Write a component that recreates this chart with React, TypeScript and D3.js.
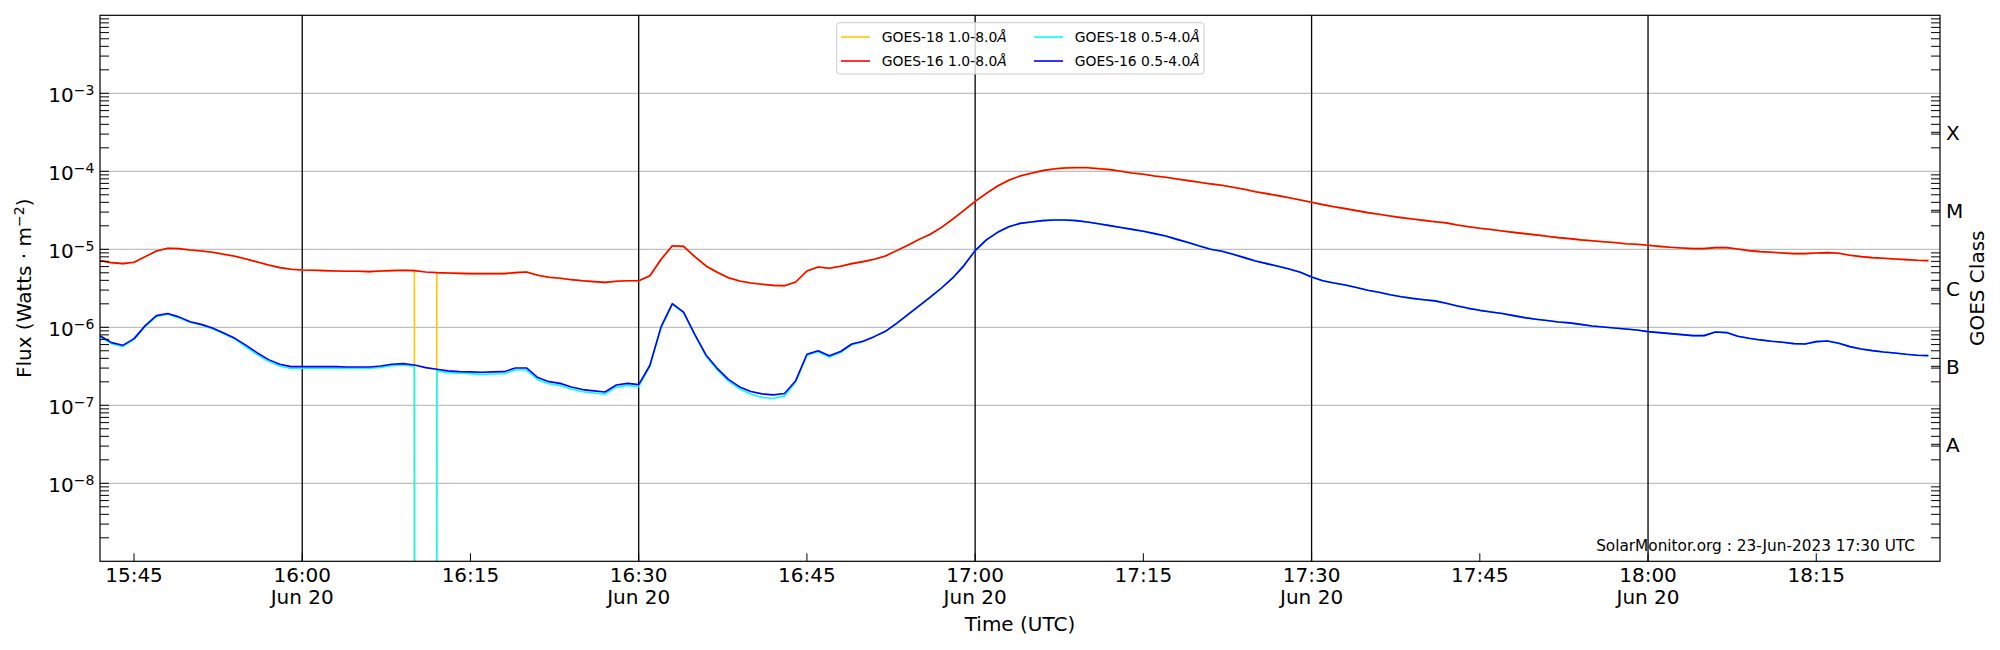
import { useEffect, useRef } from "react";
import * as d3 from "d3";

// one-minute GOES XRS samples, 15:42 .. 18:25 UTC, 20-Jun-2023
const START_UTC = Date.UTC(2023, 5, 20, 15, 42);
const CADENCE_MS = 60 * 1000;

const GOES16_LONG = [
  7.16e-6, 6.74e-6, 6.55e-6, 6.81e-6, 8.05e-6, 9.52e-6, 1.03e-5, 1.02e-5, 9.8e-6, 9.52e-6,
  9.16e-6, 8.63e-6, 8.13e-6, 7.51e-6, 6.88e-6, 6.3e-6, 5.82e-6, 5.54e-6, 5.43e-6, 5.38e-6,
  5.33e-6, 5.27e-6, 5.22e-6, 5.22e-6, 5.17e-6, 5.27e-6, 5.33e-6, 5.38e-6, 5.33e-6, 5.12e-6,
  5.02e-6, 4.97e-6, 4.92e-6, 4.88e-6, 4.88e-6, 4.88e-6, 4.88e-6, 5.02e-6, 5.12e-6, 4.65e-6,
  4.38e-6, 4.25e-6, 4.08e-6, 3.96e-6, 3.85e-6, 3.77e-6, 3.89e-6, 3.96e-6, 3.96e-6, 4.59e-6,
  7.45e-6, 1.11e-5, 1.09e-5, 8.05e-6, 6.11e-6, 5.07e-6, 4.33e-6, 3.93e-6, 3.7e-6, 3.56e-6,
  3.45e-6, 3.42e-6, 3.81e-6, 5.27e-6, 5.94e-6, 5.71e-6, 6.05e-6, 6.55e-6, 6.95e-6, 7.45e-6,
  8.22e-6, 9.62e-6, 1.125e-5, 1.34e-5, 1.56e-5, 1.91e-5, 2.43e-5, 3.16e-5, 4.12e-5, 5.22e-5,
  6.48e-5, 7.67e-5, 8.71e-5, 9.42e-5, 1.02e-4, 1.07e-4, 1.1e-4, 1.11e-4, 1.11e-4, 1.08e-4,
  1.05e-4, 1.0e-4, 9.52e-5, 9.16e-5, 8.71e-5, 8.38e-5, 7.98e-5, 7.59e-5, 7.23e-5, 6.89e-5,
  6.62e-5, 6.24e-5, 5.88e-5, 5.48e-5, 5.17e-5, 4.88e-5, 4.59e-5, 4.29e-5, 4.01e-5, 3.74e-5,
  3.52e-5, 3.32e-5, 3.13e-5, 2.95e-5, 2.81e-5, 2.67e-5, 2.55e-5, 2.45e-5, 2.35e-5, 2.26e-5,
  2.18e-5, 2.05e-5, 1.95e-5, 1.86e-5, 1.79e-5, 1.72e-5, 1.65e-5, 1.59e-5, 1.53e-5, 1.47e-5,
  1.41e-5, 1.37e-5, 1.32e-5, 1.29e-5, 1.25e-5, 1.22e-5, 1.18e-5, 1.16e-5, 1.125e-5, 1.09e-5,
  1.06e-5, 1.04e-5, 1.02e-5, 1.02e-5, 1.05e-5, 1.05e-5, 1.01e-5, 9.62e-6, 9.33e-6, 9.16e-6,
  8.97e-6, 8.8e-6, 8.8e-6, 8.97e-6, 9.06e-6, 8.88e-6, 8.38e-6, 8.05e-6, 7.82e-6, 7.67e-6,
  7.51e-6, 7.38e-6, 7.23e-6, 7.16e-6,
];

// 0 = dropout at 16:11
const GOES18_LONG = [
  7.16e-6, 6.74e-6, 6.55e-6, 6.81e-6, 8.05e-6, 9.52e-6, 1.03e-5, 1.02e-5, 9.8e-6, 9.52e-6,
  9.16e-6, 8.63e-6, 8.13e-6, 7.51e-6, 6.88e-6, 6.3e-6, 5.82e-6, 5.54e-6, 5.43e-6, 5.38e-6,
  5.33e-6, 5.27e-6, 5.22e-6, 5.22e-6, 5.17e-6, 5.27e-6, 5.33e-6, 5.38e-6, 5.33e-6, 0,
  5.02e-6, 4.97e-6, 4.92e-6, 4.88e-6, 4.88e-6, 4.88e-6, 4.88e-6, 5.02e-6, 5.12e-6, 4.65e-6,
  4.38e-6, 4.25e-6, 4.08e-6, 3.96e-6, 3.85e-6, 3.77e-6, 3.89e-6, 3.96e-6, 3.96e-6, 4.59e-6,
  7.45e-6, 1.11e-5, 1.09e-5, 8.05e-6, 6.11e-6, 5.07e-6, 4.33e-6, 3.93e-6, 3.7e-6, 3.56e-6,
  3.45e-6, 3.42e-6, 3.81e-6, 5.27e-6, 5.94e-6, 5.71e-6, 6.05e-6, 6.55e-6, 6.95e-6, 7.45e-6,
  8.22e-6, 9.62e-6, 1.125e-5, 1.34e-5, 1.56e-5, 1.91e-5, 2.43e-5, 3.16e-5, 4.12e-5, 5.22e-5,
  6.48e-5, 7.67e-5, 8.71e-5, 9.42e-5, 1.02e-4, 1.08e-4, 1.115e-4, 1.125e-4, 1.125e-4, 1.095e-4,
  1.05e-4, 1.0e-4, 9.52e-5, 9.16e-5, 8.71e-5, 8.38e-5, 7.98e-5, 7.59e-5, 7.23e-5, 6.89e-5,
  6.62e-5, 6.24e-5, 5.88e-5, 5.48e-5, 5.17e-5, 4.88e-5, 4.59e-5, 4.29e-5, 4.01e-5, 3.74e-5,
  3.52e-5, 3.32e-5, 3.13e-5, 2.95e-5, 2.81e-5, 2.67e-5, 2.55e-5, 2.45e-5, 2.35e-5, 2.26e-5,
  2.18e-5, 2.05e-5, 1.95e-5, 1.86e-5, 1.79e-5, 1.72e-5, 1.65e-5, 1.59e-5, 1.53e-5, 1.47e-5,
  1.41e-5, 1.37e-5, 1.32e-5, 1.29e-5, 1.25e-5, 1.22e-5, 1.18e-5, 1.16e-5, 1.125e-5, 1.09e-5,
  1.06e-5, 1.04e-5, 1.02e-5, 1.02e-5, 1.05e-5, 1.05e-5, 1.01e-5, 9.62e-6, 9.33e-6, 9.16e-6,
  8.97e-6, 8.8e-6, 8.8e-6, 8.97e-6, 9.06e-6, 8.88e-6, 8.38e-6, 8.05e-6, 7.82e-6, 7.67e-6,
  7.51e-6, 7.38e-6, 7.23e-6, 7.16e-6,
];

const GOES16_SHORT = [
  7.74e-7, 6.36e-7, 5.87e-7, 7.16e-7, 1.05e-6, 1.41e-6, 1.5e-6, 1.36e-6, 1.18e-6, 1.09e-6,
  9.8e-7, 8.45e-7, 7.22e-7, 5.87e-7, 4.69e-7, 3.85e-7, 3.36e-7, 3.13e-7, 3.13e-7, 3.13e-7,
  3.13e-7, 3.13e-7, 3.1e-7, 3.1e-7, 3.1e-7, 3.19e-7, 3.36e-7, 3.42e-7, 3.29e-7, 3.04e-7,
  2.9e-7, 2.76e-7, 2.7e-7, 2.68e-7, 2.65e-7, 2.68e-7, 2.7e-7, 3.01e-7, 3.01e-7, 2.27e-7,
  2.01e-7, 1.91e-7, 1.72e-7, 1.59e-7, 1.53e-7, 1.48e-7, 1.82e-7, 1.91e-7, 1.84e-7, 3.26e-7,
  1.02e-6, 2.01e-6, 1.57e-6, 8.13e-7, 4.42e-7, 2.98e-7, 2.15e-7, 1.72e-7, 1.5e-7, 1.4e-7,
  1.36e-7, 1.42e-7, 2.07e-7, 4.51e-7, 5.02e-7, 4.33e-7, 4.9e-7, 6.11e-7, 6.62e-7, 7.59e-7,
  8.89e-7, 1.125e-6, 1.45e-6, 1.88e-6, 2.43e-6, 3.19e-6, 4.29e-6, 6.18e-6, 9.62e-6, 1.32e-5,
  1.65e-5, 1.95e-5, 2.15e-5, 2.24e-5, 2.33e-5, 2.38e-5, 2.38e-5, 2.33e-5, 2.24e-5, 2.13e-5,
  2.01e-5, 1.9e-5, 1.8e-5, 1.7e-5, 1.59e-5, 1.48e-5, 1.34e-5, 1.22e-5, 1.1e-5, 1.0e-5,
  9.42e-6, 8.63e-6, 7.82e-6, 7.08e-6, 6.55e-6, 6.05e-6, 5.6e-6, 5.07e-6, 4.42e-6, 3.96e-6,
  3.7e-6, 3.49e-6, 3.23e-6, 2.98e-6, 2.81e-6, 2.62e-6, 2.47e-6, 2.35e-6, 2.26e-6, 2.18e-6,
  2.03e-6, 1.88e-6, 1.75e-6, 1.65e-6, 1.57e-6, 1.5e-6, 1.41e-6, 1.33e-6, 1.27e-6, 1.22e-6,
  1.17e-6, 1.14e-6, 1.09e-6, 1.04e-6, 1.01e-6, 9.8e-7, 9.52e-7, 9.24e-7, 8.8e-7, 8.55e-7,
  8.3e-7, 8.05e-7, 7.82e-7, 7.82e-7, 8.71e-7, 8.55e-7, 7.67e-7, 7.23e-7, 6.89e-7, 6.62e-7,
  6.43e-7, 6.18e-7, 6.11e-7, 6.55e-7, 6.68e-7, 6.24e-7, 5.65e-7, 5.27e-7, 5.02e-7, 4.83e-7,
  4.69e-7, 4.51e-7, 4.38e-7, 4.33e-7,
];

const GOES18_SHORT = [
  7.51e-7, 6.17e-7, 5.69e-7, 6.95e-7, 1.03e-6, 1.38e-6, 1.47e-6, 1.33e-6, 1.16e-6, 1.07e-6,
  9.6e-7, 8.28e-7, 7.08e-7, 5.58e-7, 4.46e-7, 3.66e-7, 3.19e-7, 2.97e-7, 3.0e-7, 3.0e-7,
  3.0e-7, 3.0e-7, 2.98e-7, 2.98e-7, 2.98e-7, 3.06e-7, 3.23e-7, 3.28e-7, 3.16e-7, 0,
  2.76e-7, 2.62e-7, 2.57e-7, 2.55e-7, 2.49e-7, 2.52e-7, 2.54e-7, 2.83e-7, 2.83e-7, 2.13e-7,
  1.89e-7, 1.8e-7, 1.62e-7, 1.49e-7, 1.44e-7, 1.39e-7, 1.71e-7, 1.8e-7, 1.73e-7, 3.19e-7,
  1.0e-6, 1.97e-6, 1.54e-6, 7.97e-7, 4.29e-7, 2.86e-7, 2.04e-7, 1.62e-7, 1.4e-7, 1.26e-7,
  1.22e-7, 1.32e-7, 1.99e-7, 4.37e-7, 4.87e-7, 4.16e-7, 4.75e-7, 5.99e-7, 6.55e-7, 7.59e-7,
  8.89e-7, 1.125e-6, 1.45e-6, 1.88e-6, 2.43e-6, 3.19e-6, 4.29e-6, 6.18e-6, 9.62e-6, 1.32e-5,
  1.65e-5, 1.95e-5, 2.15e-5, 2.24e-5, 2.33e-5, 2.38e-5, 2.38e-5, 2.33e-5, 2.24e-5, 2.13e-5,
  2.01e-5, 1.9e-5, 1.8e-5, 1.7e-5, 1.59e-5, 1.48e-5, 1.34e-5, 1.22e-5, 1.1e-5, 1.0e-5,
  9.42e-6, 8.63e-6, 7.82e-6, 7.08e-6, 6.55e-6, 6.05e-6, 5.6e-6, 5.07e-6, 4.42e-6, 3.96e-6,
  3.7e-6, 3.49e-6, 3.23e-6, 2.98e-6, 2.81e-6, 2.62e-6, 2.47e-6, 2.35e-6, 2.26e-6, 2.18e-6,
  2.03e-6, 1.88e-6, 1.75e-6, 1.65e-6, 1.57e-6, 1.5e-6, 1.41e-6, 1.33e-6, 1.27e-6, 1.22e-6,
  1.17e-6, 1.14e-6, 1.09e-6, 1.04e-6, 1.01e-6, 9.8e-7, 9.52e-7, 9.24e-7, 8.8e-7, 8.55e-7,
  8.3e-7, 8.05e-7, 7.82e-7, 7.82e-7, 8.71e-7, 8.55e-7, 7.67e-7, 7.23e-7, 6.89e-7, 6.62e-7,
  6.43e-7, 6.18e-7, 6.11e-7, 6.55e-7, 6.68e-7, 6.24e-7, 5.65e-7, 5.27e-7, 5.02e-7, 4.83e-7,
  4.69e-7, 4.51e-7, 4.38e-7, 4.33e-7,
];

// drawing / legend order (column-major in the legend)
const SERIES_NAMES = ["GOES-18 1.0-8.0", "GOES-16 1.0-8.0", "GOES-18 0.5-4.0", "GOES-16 0.5-4.0"];
const SERIES_COLORS = ["#ffc800", "#ff0000", "#00ffff", "#0000ff"];
const SERIES_DATA = [GOES18_LONG, GOES16_LONG, GOES18_SHORT, GOES16_SHORT];

const X_TICKS = ["15:45", "16:00", "16:15", "16:30", "16:45", "17:00", "17:15", "17:30", "17:45", "18:00", "18:15"];
const DATE_TICKS = ["16:00", "16:30", "17:00", "17:30", "18:00"];
const DATE_LABEL = "Jun 20";
const Y_TICK_EXPONENTS = [-3, -4, -5, -6, -7, -8];
const GRID_EXPONENTS = [-8, -7, -6, -5, -4, -3];
const CLASS_LABELS = ["A", "B", "C", "M", "X"];
const CLASS_FLUX = [3.162e-8, 3.162e-7, 3.162e-6, 3.162e-5, 3.162e-4];
const WATERMARK = "SolarMonitor.org : 23-Jun-2023 17:30 UTC";

const W = 2000;
const H = 650;
const PLOT = { left: 100, right: 1940, top: 15.3, bottom: 561.3 };
const FONT = "'DejaVu Sans', Verdana, sans-serif";

const hm = (s: string) => {
  const [h, m] = s.split(":").map(Number);
  return new Date(Date.UTC(2023, 5, 20, h, m));
};

function App() {
  const svgRef = useRef<SVGSVGElement>(null);

  useEffect(() => {
    if (!svgRef.current) return;
    const svg = d3.select(svgRef.current);
    svg.selectAll("*").remove();

    const times = GOES16_LONG.map((_, i) => new Date(START_UTC + i * CADENCE_MS));

    const x = d3
      .scaleUtc()
      .domain([new Date(Date.UTC(2023, 5, 20, 15, 41, 58)), new Date(Date.UTC(2023, 5, 20, 18, 26, 2))])
      .range([PLOT.left, PLOT.right]);
    const y = d3.scaleLog().domain([1e-9, 1e-2]).range([PLOT.bottom, PLOT.top]);

    svg.append("rect").attr("width", W).attr("height", H).attr("fill", "#fff");

    svg
      .append("clipPath")
      .attr("id", "plot-clip")
      .append("rect")
      .attr("x", PLOT.left)
      .attr("y", PLOT.top)
      .attr("width", PLOT.right - PLOT.left)
      .attr("height", PLOT.bottom - PLOT.top);

    // horizontal grid at decades
    svg
      .append("g")
      .selectAll("line")
      .data(GRID_EXPONENTS)
      .join("line")
      .attr("x1", PLOT.left)
      .attr("x2", PLOT.right)
      .attr("y1", (d) => y(Math.pow(10, d)))
      .attr("y2", (d) => y(Math.pow(10, d)))
      .attr("stroke", "#b0b0b0")
      .attr("stroke-width", 1);

    // black half-hour markers
    svg
      .append("g")
      .selectAll("line")
      .data(DATE_TICKS)
      .join("line")
      .attr("x1", (d) => x(hm(d)))
      .attr("x2", (d) => x(hm(d)))
      .attr("y1", PLOT.top)
      .attr("y2", PLOT.bottom)
      .attr("stroke", "#000")
      .attr("stroke-width", 1.3);

    // series
    const line = d3
      .line<number>()
      .x((_, i) => x(times[i]))
      .y((v) => y(Math.max(v, 1e-300)));

    const lines = svg.append("g").attr("clip-path", "url(#plot-clip)");
    SERIES_DATA.forEach((values, k) => {
      lines
        .append("path")
        .datum(values)
        .attr("fill", "none")
        .attr("stroke", SERIES_COLORS[k])
        .attr("stroke-width", 1.6)
        .attr("stroke-linejoin", "round")
        .attr("d", line);
    });

    // frame
    svg
      .append("rect")
      .attr("x", PLOT.left)
      .attr("y", PLOT.top)
      .attr("width", PLOT.right - PLOT.left)
      .attr("height", PLOT.bottom - PLOT.top)
      .attr("fill", "none")
      .attr("stroke", "#000")
      .attr("stroke-width", 1.2);

    // log ticks, inward on both sides
    const logTicks = y.ticks().filter((v) => v > 1e-9 && v < 1e-2);
    const ticks = svg.append("g").attr("stroke", "#000").attr("stroke-width", 1);
    ticks
      .selectAll("line.l")
      .data(logTicks)
      .join("line")
      .attr("class", "l")
      .attr("x1", PLOT.left)
      .attr("x2", PLOT.left + 9)
      .attr("y1", (d) => y(d))
      .attr("y2", (d) => y(d));
    ticks
      .selectAll("line.r")
      .data([...logTicks.filter((v) => Math.abs(Math.log10(v) - Math.round(Math.log10(v))) > 1e-6), ...CLASS_FLUX])
      .join("line")
      .attr("class", "r")
      .attr("x1", PLOT.right - 9)
      .attr("x2", PLOT.right)
      .attr("y1", (d) => y(d))
      .attr("y2", (d) => y(d));
    ticks
      .selectAll("line.b")
      .data(X_TICKS)
      .join("line")
      .attr("class", "b")
      .attr("x1", (d) => x(hm(d)))
      .attr("x2", (d) => x(hm(d)))
      .attr("y1", PLOT.bottom)
      .attr("y2", PLOT.bottom - 8);

    const text = svg.append("g").attr("font-family", FONT).attr("fill", "#000");

    // y tick labels 10^n
    Y_TICK_EXPONENTS.forEach((e) => {
      const t = text
        .append("text")
        .attr("x", PLOT.left - 5.7)
        .attr("y", y(Math.pow(10, e)) + 8.3)
        .attr("text-anchor", "end")
        .attr("font-size", 20)
        .text("10");
      t.append("tspan").attr("dy", -6.8).attr("font-size", 14).text(`\u2212${Math.abs(e)}`);
    });

    // x tick labels
    X_TICKS.forEach((s) => {
      const tx = x(hm(s));
      text.append("text").attr("x", tx).attr("y", 581.7).attr("text-anchor", "middle").attr("font-size", 20).text(s);
      if (DATE_TICKS.includes(s)) {
        text.append("text").attr("x", tx).attr("y", 604).attr("text-anchor", "middle").attr("font-size", 20).text(DATE_LABEL);
      }
    });

    // GOES class letters
    CLASS_LABELS.forEach((c, i) => {
      text
        .append("text")
        .attr("x", PLOT.right + 6)
        .attr("y", y(CLASS_FLUX[i]) + 7.3)
        .attr("font-size", 20)
        .text(c);
    });

    // axis titles
    const mid = (PLOT.top + PLOT.bottom) / 2;
    text
      .append("text")
      .attr("x", (PLOT.left + PLOT.right) / 2)
      .attr("y", 630.5)
      .attr("text-anchor", "middle")
      .attr("font-size", 20)
      .text("Time (UTC)");

    const yl = text
      .append("text")
      .attr("transform", `translate(31,${mid}) rotate(-90)`)
      .attr("text-anchor", "middle")
      .attr("font-size", 20);
    yl.append("tspan").text("Flux (Watts \u00b7 m");
    yl.append("tspan").attr("dy", -7.5).attr("font-size", 14).text("\u22122");
    yl.append("tspan").attr("dy", 7.5).text(")");

    text
      .append("text")
      .attr("transform", `translate(1984,${mid}) rotate(-90)`)
      .attr("text-anchor", "middle")
      .attr("font-size", 20)
      .text("GOES Class");

    // watermark
    text
      .append("text")
      .attr("x", 1915)
      .attr("y", 551.4)
      .attr("text-anchor", "end")
      .attr("font-size", 15.3)
      .text(WATERMARK);

    // legend
    const legend = svg.append("g").attr("font-family", FONT);
    legend
      .append("rect")
      .attr("x", 836.7)
      .attr("y", 22.7)
      .attr("width", 367.3)
      .attr("height", 51.3)
      .attr("rx", 3)
      .attr("fill", "#fff")
      .attr("fill-opacity", 0.8)
      .attr("stroke", "#cccccc")
      .attr("stroke-width", 1);

    const colX = [841, 1034];
    const rowY = [37, 61];
    SERIES_NAMES.forEach((name, k) => {
      const cx = colX[Math.floor(k / 2)];
      const cy = rowY[k % 2];
      legend
        .append("line")
        .attr("x1", cx)
        .attr("x2", cx + 29)
        .attr("y1", cy)
        .attr("y2", cy)
        .attr("stroke", SERIES_COLORS[k])
        .attr("stroke-width", 1.6);
      const t = legend
        .append("text")
        .attr("x", cx + 40.7)
        .attr("y", cy + 5)
        .attr("font-size", 13.9)
        .attr("fill", "#000")
        .text(name);
      t.append("tspan").attr("font-style", "italic").text("\u00c5");
    });
  }, []);

  return (
    <div style={{ position: "absolute", left: 0, top: 0, width: W, height: H, background: "#fff" }}>
      <svg ref={svgRef} width={W} height={H} style={{ display: "block" }} />
    </div>
  );
}

export default App;
